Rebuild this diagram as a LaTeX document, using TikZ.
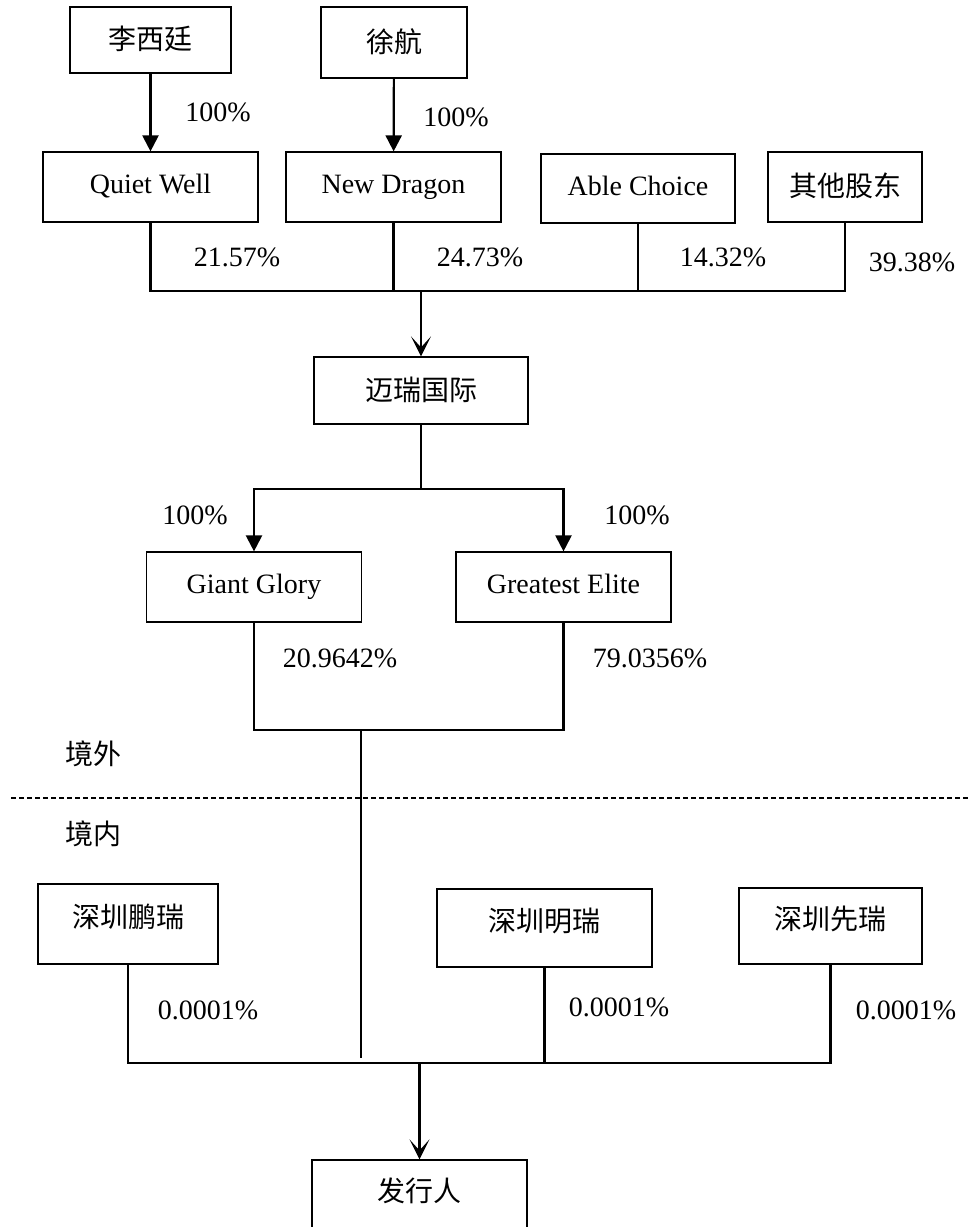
\documentclass[tikz,border=0pt]{standalone}
\usepackage{fontspec}
\setmainfont{Liberation Serif}
\newfontfamily\cjk{Noto Sans CJK SC}
\usetikzlibrary{arrows.meta}
\tikzstyle{block} = [rectangle, draw=black, line width=1.2pt, text centered, inner sep=0pt, text height=19pt, text depth=6pt, font=\fontsize{28}{33}\selectfont]
\tikzstyle{zh} = [text height=23pt, text depth=4pt, font=\fontsize{28}{33}\selectfont\cjk]
\tikzstyle{pct} = [inner sep=0pt, font=\fontsize{28}{33}\selectfont]
\tikzstyle{line} = [line width=2.2pt]
\tikzstyle{arrow} = [line width=2.2pt,-{Triangle[length=16pt,width=16pt]}]
\tikzstyle{arrowb} = [line width=2.2pt,-{Stealth[length=20pt,width=20pt,inset=11pt]}]

\begin{document}
\begin{tikzpicture}[x=1pt,y=-1pt]
\useasboundingbox (0,0) rectangle (968,1227);

% shareholders
\node (li) [block, zh, minimum width=161pt, minimum height=66pt] at (150.5,40) {李西廷};
\node (xu) [block, zh, minimum width=146pt, minimum height=71pt] at (394,42.5) {徐航};
\node (quiet) [block, minimum width=215pt, minimum height=70pt] at (150.5,187) {Quiet Well};
\node (newd) [block, minimum width=215pt, minimum height=70pt] at (393.5,187) {New Dragon};
\node (able) [block, minimum width=194pt, minimum height=69pt] at (638,188.5) {Able Choice};
\node (other) [block, zh, minimum width=154pt, minimum height=70pt] at (845,187) {其他股东};
\node (mairui) [block, zh, minimum width=214pt, minimum height=67pt] at (421,390.5) {迈瑞国际};
\node (giant) [block, minimum width=215pt, minimum height=70pt] at (254,587) {Giant Glory};
\node (greatest) [block, minimum width=215pt, minimum height=70pt] at (563.5,587) {Greatest Elite};
\node (pengrui) [block, zh, minimum width=180pt, minimum height=80pt, text depth=16pt] at (128,924) {深圳鹏瑞};
\node (mingrui) [block, zh, minimum width=215pt, minimum height=78pt, text depth=16pt] at (544.5,928) {深圳明瑞};
\node (xianrui) [block, zh, minimum width=183pt, minimum height=76pt, text depth=16pt] at (830.5,926) {深圳先瑞};
\node (issuer) [block, zh, minimum width=215pt, minimum height=90pt, text depth=30pt] at (419.5,1205) {发行人};

% percentages
\node (p1) [pct] at (218,112) {100\%};
\node (p2) [pct] at (456,117) {100\%};
\node (q1) [pct] at (237,257) {21.57\%};
\node (q2) [pct] at (480,257) {24.73\%};
\node (q3) [pct] at (723,257) {14.32\%};
\node (q4) [pct] at (912,262) {39.38\%};
\node (r1) [pct] at (195,515) {100\%};
\node (r2) [pct] at (637,515) {100\%};
\node (s1) [pct] at (340,658) {20.9642\%};
\node (s2) [pct] at (650,658) {79.0356\%};
\node (t1) [pct] at (208,1010) {0.0001\%};
\node (t2) [pct] at (619,1007) {0.0001\%};
\node (t3) [pct] at (906,1010) {0.0001\%};
\node (out) [pct, zh] at (93,755) {境外};
\node (in) [pct, zh] at (93,835) {境内};

% junctions
\coordinate (jtop) at (421,291);
\coordinate (jmid) at (421,489);
\coordinate (jlow) at (361,730);
\coordinate (jend) at (361,1058);
\coordinate (jbot) at (419.5,1063);
\coordinate (bl) at (11,798);
\coordinate (br) at (968,798);

\draw [arrow] (li) -- (quiet);
\draw [arrow] (xu) -- (newd);
\draw [line] (quiet.south) |- (jtop) -| (other.south);
\draw [line] (newd.south) -- (newd.south |- jtop);
\draw [line] (able.south) -- (able.south |- jtop);
\draw [arrowb] (jtop) -- (mairui.north);
\draw [line] (mairui.south) -- (jmid);
\draw [arrow] (jmid) -| (giant.north);
\draw [arrow] (jmid) -| (greatest.north);
\draw [line] (giant.south) |- (jlow) -| (greatest.south);
\draw [line] (jlow) -- (jend);
\draw [line, dash pattern=on 5pt off 3pt] (bl) -- (br);
\draw [line] (pengrui.south) |- (jbot) -| (xianrui.south);
\draw [line] (mingrui.south) -- (mingrui.south |- jbot);
\draw [arrowb] (jbot) -- (issuer.north);
\end{tikzpicture}
\end{document}
